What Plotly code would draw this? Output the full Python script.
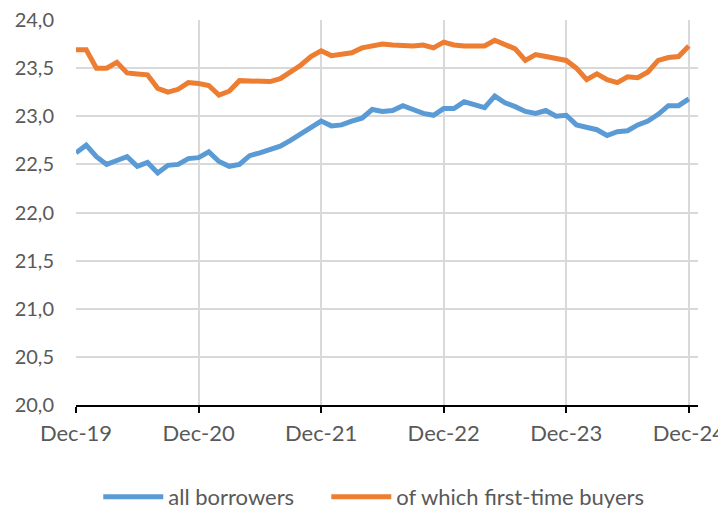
import plotly.graph_objects as go

months = list(range(61))
tick_positions = [0, 12, 24, 36, 48, 60]
tick_labels = ["Dec-19", "Dec-20", "Dec-21", "Dec-22", "Dec-23", "Dec-24"]

all_borrowers = [
    22.62, 22.70, 22.58, 22.50, 22.54, 22.58, 22.48, 22.52, 22.41, 22.49,
    22.50, 22.56, 22.57, 22.63, 22.53, 22.48, 22.50, 22.59, 22.62, 22.65,
    22.69, 22.75, 22.82, 22.88, 22.95, 22.90, 22.91, 22.95, 22.98, 23.07,
    23.05, 23.06, 23.11, 23.07, 23.03, 23.01, 23.08, 23.08, 23.15, 23.12,
    23.09, 23.21, 23.14, 23.10, 23.05, 23.03, 23.06, 23.00, 23.01, 22.91,
    22.885, 22.86, 22.80, 22.84, 22.85, 22.91, 22.95, 23.02, 23.11, 23.11,
    23.18,
]

first_time_buyers = [
    23.69, 23.69, 23.50, 23.50, 23.56, 23.45, 23.44, 23.43, 23.29, 23.25,
    23.28, 23.35, 23.34, 23.32, 23.22, 23.26, 23.37, 23.37, 23.36, 23.36,
    23.39, 23.46, 23.53, 23.62, 23.68, 23.63, 23.65, 23.66, 23.71, 23.73,
    23.75, 23.74, 23.73, 23.73, 23.74, 23.71, 23.77, 23.74, 23.73, 23.73,
    23.73, 23.79, 23.74, 23.70, 23.58, 23.64, 23.62, 23.60, 23.58, 23.50,
    23.38, 23.44, 23.38, 23.35, 23.41, 23.40, 23.46, 23.58, 23.61, 23.62,
    23.73,
]

y_ticks = [20.0, 20.5, 21.0, 21.5, 22.0, 22.5, 23.0, 23.5, 24.0]
y_tick_labels = [f"{v:.1f}".replace(".", ",") for v in y_ticks]

font_family = "Lato, 'Open Sans', sans-serif"
text_color = "#595959"

fig = go.Figure()
fig.add_trace(go.Scatter(
    x=months, y=all_borrowers, mode="lines", name="all borrowers",
    line=dict(color="#5B9BD5", width=5), legend="legend",
))
fig.add_trace(go.Scatter(
    x=months, y=first_time_buyers, mode="lines", name="of which first-time buyers",
    line=dict(color="#ED7D31", width=5), legend="legend2",
))

legend_common = dict(
    orientation="h", xanchor="left", y=-0.239, yanchor="middle",
    font=dict(size=22, color=text_color), itemwidth=60,
    bgcolor="rgba(0,0,0,0)",
)

fig.update_layout(
    width=726, height=508,
    margin=dict(l=68, r=36, t=12, b=111, autoexpand=False),
    paper_bgcolor="white", plot_bgcolor="white",
    font=dict(family=font_family, size=20, color=text_color),
    showlegend=True,
    legend=dict(x=0.0358, **legend_common),
    legend2=dict(x=0.4024, **legend_common),
    xaxis=dict(
        range=[0, 60.9], tickvals=tick_positions, ticktext=tick_labels,
        showgrid=True, gridcolor="#D9D9D9", gridwidth=2,
        showline=True, linecolor="black", linewidth=2,
        ticks="outside", ticklen=6, tickcolor="black", tickwidth=2,
        ticklabelstandoff=2, zeroline=False, automargin=False,
        ticklabeloverflow="allow",
        tickfont=dict(size=22, color=text_color),
    ),
    yaxis=dict(
        range=[20, 24], tickvals=y_ticks, ticktext=y_tick_labels,
        showgrid=True, gridcolor="#D9D9D9", gridwidth=2,
        showline=False, zeroline=False, ticks="", ticklabelstandoff=21,
        automargin=False, ticklabeloverflow="allow",
        tickfont=dict(size=20, color=text_color),
    ),
)

fig.write_html("out.html")
